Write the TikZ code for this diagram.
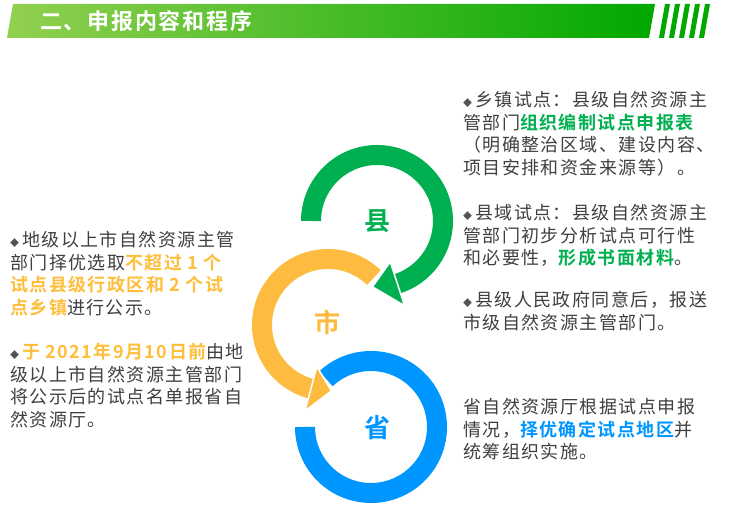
\documentclass[tikz,border=0pt]{standalone}
\usepackage{fontspec}
\newfontfamily\cjk{Noto Sans CJK SC}[BoldFont={Noto Sans CJK SC Bold}]
\usetikzlibrary{calc}
\definecolor{tgray}{HTML}{404040}
\definecolor{cgreen}{HTML}{00B050}
\definecolor{corange}{HTML}{FDBB3F}
\definecolor{cblue}{HTML}{0096FF}
\definecolor{hl}{HTML}{FFBE3C}
\definecolor{hlight}{HTML}{92D050}
\definecolor{hdark}{HTML}{00A800}
\newcommand{\myog}[1]{\textcolor{hl}{\bfseries #1}}
\newcommand{\mygg}[1]{\textcolor{cgreen}{\bfseries #1}}
\newcommand{\mybb}[1]{\textcolor{cblue}{\bfseries #1}}
\newcommand{\mydm}{{\small\textcolor{tgray!90}{◆}}\,}
\begin{document}
\begin{tikzpicture}[x=1pt,y=1pt,
  para/.style={anchor=north west,inner sep=0,align=left,text=tgray,font=\cjk\fontsize{18}{22.7}\selectfont\addfontfeature{LetterSpace=8}},
  ring/.style={line width=20pt},
  head/.style={draw=white,line width=1.5pt,line join=miter},
  big/.style={font=\cjk\bfseries\fontsize{26}{26}\selectfont}]
\useasboundingbox (0,0) rectangle (737,505);
\fill[white] (0,0) rectangle (737,505);
% header
\shade[left color=hlight,right color=hdark]
  (7,467) -- (13,501) -- (655,501) -- (649,467) -- cycle;
\foreach \i in {0,1,2,3,4}{
  \fill[hdark] ($(659+10*\i,467)$) -- ($(665+10*\i,501)$) -- ($(670+10*\i,501)$) -- ($(664+10*\i,467)$) -- cycle;}
\node[anchor=west,inner sep=0,text=white,font=\cjk\bfseries\fontsize{22}{22}\selectfont\addfontfeature{LetterSpace=8}] (title) at (40,484) {二、申报内容和程序};
% rings
\coordinate (cg) at (377,284);
\coordinate (co) at (328,180);
\coordinate (cb) at (371,78);
\draw[ring,cblue] ($(cb)+(133:66)$) arc[start angle=133,end angle=-180,radius=66];
\draw[ring,corange] ($(co)+(46:66)$) arc[start angle=46,end angle=256,radius=66];
\filldraw[head,fill=corange] ($(co)+(255:43)$) -- ($(co)+(255:89)$) -- ($(co)+(273:66)$) -- cycle;
\draw[ring,cgreen] ($(cg)+(180:66)$) arc[start angle=180,end angle=-73,radius=66];
\filldraw[head,fill=cgreen] ($(cg)+(-72:43)$) -- ($(cg)+(-72:89)$) -- ($(cg)+(-94:66)$) -- cycle;
\node[big,text=cgreen] (xian) at (377,284) {县};
\node[big,text=corange] (shi) at (327,183) {市};
\node[big,text=cblue] (sheng) at (377,77) {省};
% left text
\node[para] (l1) at (10,274) {\mydm 地级以上市自然资源主管\\部门择优选取\myog{不超过 1 个}\\\myog{试点县级行政区和 2 个试}\\\myog{点乡镇}进行公示。};
\node[para] (l2) at (10,162) {\mydm \myog{于 2021年9月10日前}由地\\级以上市自然资源主管部门\\将公示后的试点名单报省自\\然资源厅。};
% right text
\node[para] (r1) at (463,414) {\mydm 乡镇试点：县级自然资源主\\管部门\mygg{组织编制试点申报表}\\（明确整治区域、建设内容、\\项目安排和资金来源等）。};
\node[para] (r2) at (463,301) {\mydm 县域试点：县级自然资源主\\管部门初步分析试点可行性\\和必要性，\mygg{形成书面材料}。};
\node[para] (r3) at (463,214) {\mydm 县级人民政府同意后，报送\\市级自然资源主管部门。};
\node[para] (r4) at (463,107) {省自然资源厅根据试点申报\\情况，\mybb{择优确定试点地区}并\\统筹组织实施。};
\end{tikzpicture}
\end{document}
